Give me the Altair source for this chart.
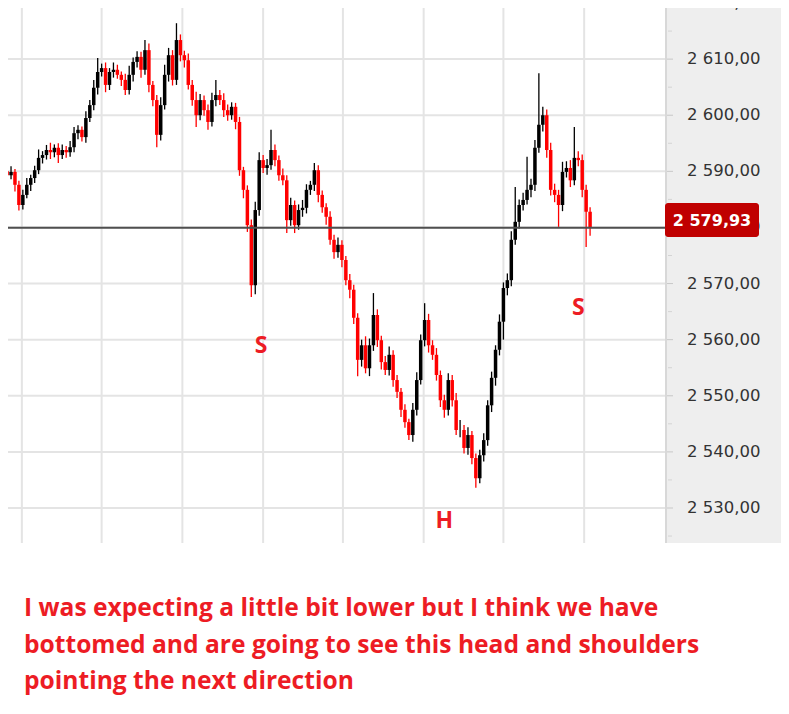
import altair as alt
import pandas as pd

# ---------------- data ----------------
first_open = 2590.0
close = [
    2589.3, 2589.9, 2587.6, 2584.0, 2585.8, 2587.6, 2588.8, 2590.2, 2592.4, 2592.9,
    2593.8, 2593.4, 2594.2, 2592.9, 2593.8, 2593.4, 2594.3, 2596.8, 2597.4, 2596.1,
    2599.5, 2601.8, 2604.9, 2607.7, 2608.4, 2605.4, 2607.7, 2608.1, 2607.2, 2606.3,
    2604.5, 2607.2, 2609.5, 2610.4, 2608.1, 2611.6, 2605.4, 2602.7, 2596.5, 2601.8,
    2607.2, 2610.7, 2606.3, 2613.4, 2610.7, 2609.8, 2605.4, 2602.7, 2600.0, 2602.7,
    2600.9, 2598.8, 2602.7, 2603.6, 2602.7, 2600.9, 2600.0, 2601.5, 2598.8, 2590.2,
    2586.7, 2580.4, 2569.7, 2583.1, 2592.0, 2590.6, 2591.1, 2593.8, 2592.0, 2589.3,
    2588.4, 2581.3, 2584.0, 2580.4, 2583.1, 2583.5, 2586.7, 2587.6, 2590.2, 2585.8,
    2583.6, 2581.9, 2577.8, 2575.6, 2576.9, 2574.2, 2570.6, 2568.9, 2563.9, 2556.4,
    2559.0, 2554.9, 2559.0, 2564.4, 2559.9, 2556.0, 2554.6, 2557.3, 2552.8, 2550.7,
    2547.5, 2545.3, 2543.0, 2547.5, 2552.8, 2559.9, 2563.5, 2559.0, 2557.3, 2553.7,
    2549.2, 2547.5, 2552.8, 2549.2, 2543.9, 2543.9, 2540.7, 2543.0, 2538.9, 2535.3,
    2539.4, 2542.1, 2548.3, 2553.2, 2558.2, 2563.2, 2569.2, 2570.6, 2577.8, 2581.0,
    2584.0, 2584.9, 2586.7, 2587.6, 2594.2, 2598.3, 2600.0, 2593.8, 2586.7, 2585.8,
    2584.0, 2589.9, 2590.6, 2588.4, 2592.4, 2592.0, 2586.7, 2582.8, 2579.93,
]
upper_wick = [
    0.8, 1.0, 0.5, 0.7, 0.9, 1.2, 0.6, 0.8, 1.5, 0.7,
    0.9, 1.3, 0.6, 0.8, 1.0, 0.7, 1.1, 1.1, 0.8, 0.6,
    1.2, 0.9, 1.4, 2.5, 0.8, 1.0, 0.7, 1.3, 0.9, 0.6,
    1.1, 1.6, 0.8, 1.0, 0.9, 1.8, 1.2, 0.7, 0.9, 1.4,
    1.8, 1.3, 0.9, 3.0, 1.0, 0.8, 1.2, 0.9, 1.5, 1.1,
    0.8, 1.0, 1.3, 2.7, 0.9, 1.2, 1.0, 0.8, 0.7, 0.9,
    0.6, 0.8, 1.0, 1.5, 1.4, 0.9, 1.1, 3.6, 1.0, 0.8,
    1.2, 0.9, 1.3, 0.8, 1.0, 1.4, 1.0, 0.7, 1.3, 0.9,
    0.8, 0.7, 1.0, 0.9, 1.3, 0.8, 0.7, 1.1, 0.9, 0.8,
    1.0, 1.6, 1.2, 3.9, 1.0, 0.8, 1.1, 1.5, 0.8, 0.9,
    0.7, 1.0, 0.6, 1.2, 1.4, 1.0, 3.0, 1.1, 0.9, 1.2,
    0.8, 1.0, 1.2, 0.9, 1.3, 1.8, 0.9, 1.4, 0.7, 0.8,
    1.0, 1.2, 0.9, 1.1, 0.8, 1.3, 1.0, 1.2, 1.5, 6.2,
    1.0, 1.3, 5.9, 1.1, 1.4, 9.2, 1.5, 1.0, 1.3, 1.1,
    0.9, 1.8, 1.2, 1.4, 5.5, 1.2, 1.0, 0.9, 0.8,
]
lower_wick = [
    0.9, 0.7, 1.2, 1.0, 0.8, 0.6, 1.1, 0.9, 0.7, 1.0,
    0.8, 1.2, 0.9, 1.4, 0.7, 1.0, 0.8, 0.9, 1.1, 0.8,
    1.0, 0.7, 0.9, 1.2, 0.8, 1.3, 0.9, 1.0, 0.7, 1.1,
    0.9, 0.8, 1.2, 1.0, 1.4, 0.9, 1.3, 1.1, 2.2, 1.0,
    0.8, 1.2, 1.0, 0.9, 1.1, 1.3, 0.8, 1.0, 2.1, 0.9,
    1.0, 1.4, 0.8, 1.1, 0.9, 1.2, 1.0, 0.8, 1.3, 1.0,
    1.5, 1.2, 2.1, 1.6, 1.0, 0.9, 1.2, 0.8, 1.1, 1.0,
    0.9, 2.3, 1.0, 1.4, 0.8, 1.2, 1.0, 0.9, 1.1, 1.3,
    1.0, 1.4, 0.9, 1.2, 1.0, 1.3, 0.9, 1.5, 1.1, 2.9,
    1.2, 0.9, 1.4, 1.0, 1.2, 1.3, 0.9, 1.0, 1.2, 1.1,
    1.3, 1.0, 0.9, 1.2, 1.0, 0.8, 1.1, 1.3, 0.9, 1.0,
    1.2, 1.4, 1.0, 1.1, 0.9, 1.3, 1.0, 1.2, 1.1, 1.7,
    0.9, 1.1, 1.0, 1.2, 1.4, 1.0, 3.2, 1.3, 1.1, 0.9,
    1.2, 1.0, 0.8, 1.3, 1.1, 0.9, 1.2, 1.4, 1.0, 1.3,
    3.9, 1.1, 1.0, 1.2, 0.9, 1.1, 1.3, 6.3, 1.4,
]
grid_prices = [2530, 2540, 2550, 2560, 2570, 2580, 2590, 2600, 2610, 2620]
minor_prices = [2525, 2535, 2545, 2555, 2565, 2575, 2585, 2595, 2605, 2615]
vgrid_idx = [3.75, 24, 44.5, 65, 85.25, 105.75, 126, 146.5]
last_price = 2579.93
ann_text = ["S", "H", "S"]
ann_idx = [64.5, 111, 145]
ann_price = [2558.9, 2527.7, 2565.6]
note_lines = [
    "I was expecting a little bit lower but I think we have",
    "bottomed and are going to see this head and shoulders",
    "pointing the next direction",
]

# ---------------- layout ----------------
W, H = 657, 535
PANEL = 116
RED = "#ed1c24"

opens = [first_open] + close[:-1]
df = pd.DataFrame({
    "idx": list(range(len(close))),
    "open": opens,
    "close": close,
})
df["high"] = [max(o, c) + u for o, c, u in zip(opens, close, upper_wick)]
df["low"] = [min(o, c) - l for o, c, l in zip(opens, close, lower_wick)]
df["dir"] = ["up" if c >= o else "down" for o, c in zip(opens, close)]

xs = alt.Scale(domain=[1.5, 165.75], nice=False, zero=False)
ys = alt.Scale(domain=[2523.76, 2619.11], nice=False, zero=False)
col = alt.Color("dir:N", scale=alt.Scale(domain=["up", "down"], range=["#000000", "#ff0000"]), legend=None)

hgrid = alt.Chart(pd.DataFrame({"p": grid_prices})).mark_rule(color="#e4e4e4", strokeWidth=2).encode(
    y=alt.Y("p:Q", scale=ys, axis=None), x=alt.value(0), x2=alt.value(W))
vgrid = alt.Chart(pd.DataFrame({"i": vgrid_idx})).mark_rule(color="#e4e4e4", strokeWidth=2).encode(
    x=alt.X("i:Q", scale=xs, axis=None), y=alt.value(0), y2=alt.value(H))

wick = alt.Chart(df).mark_rule(strokeWidth=1.3, clip=True).encode(
    x=alt.X("idx:Q", scale=xs, axis=None),
    y=alt.Y("low:Q", scale=ys, axis=None), y2="high:Q", color=col)
body = alt.Chart(df).mark_bar(width=3.5, clip=True).encode(
    x=alt.X("idx:Q", scale=xs, axis=None),
    y=alt.Y("open:Q", scale=ys, axis=None), y2="close:Q", color=col)

pline = alt.Chart(pd.DataFrame({"p": [last_price]})).mark_rule(color="#4f4f4f", strokeWidth=2).encode(
    y=alt.Y("p:Q", scale=ys, axis=None), x=alt.value(0), x2=alt.value(W))

one = pd.DataFrame({"a": [0]})
panel = alt.Chart(one).mark_rect(color="#eeeeee").encode(
    x=alt.value(W), x2=alt.value(W + PANEL), y=alt.value(0), y2=alt.value(H))
border = alt.Chart(one).mark_rule(color="#d8d8d8", strokeWidth=2).encode(
    x=alt.value(W + 1), y=alt.value(0), y2=alt.value(H))

major = alt.Chart(pd.DataFrame({"p": grid_prices})).mark_rule(color="#c8c8c8", strokeWidth=1).encode(
    y=alt.Y("p:Q", scale=ys, axis=None), x=alt.value(W + 2), x2=alt.value(W + 8))
minor = alt.Chart(pd.DataFrame({"p": minor_prices})).mark_rule(color="#d4d4d4", strokeWidth=1).encode(
    y=alt.Y("p:Q", scale=ys, axis=None), x=alt.value(W + 3), x2=alt.value(W + 7))

fmt = "replace(replace(format(datum.p, ',.2f'), ',', ' '), '.', ',')"
labels = alt.Chart(pd.DataFrame({"p": grid_prices})).transform_calculate(lab=fmt).mark_text(
    align="left", baseline="middle", font="DejaVu Sans", fontSize=16.5, color="#333333").encode(
    y=alt.Y("p:Q", scale=ys, axis=None), x=alt.value(W + 22), text="lab:N")

box = alt.Chart(one).mark_rect(color="#c00000", cornerRadius=3).encode(
    x=alt.value(W), x2=alt.value(W + 94), y=alt.value(195), y2=alt.value(229))
boxtext = alt.Chart(pd.DataFrame({"p": [last_price]})).transform_calculate(lab=fmt).mark_text(
    align="center", baseline="middle", font="DejaVu Sans", fontSize=16, fontWeight="bold", color="white").encode(
    x=alt.value(W + 47), y=alt.value(213), text="lab:N")

ann = alt.Chart(pd.DataFrame({"t": ann_text, "i": ann_idx, "p": ann_price})).mark_text(
    align="center", baseline="middle", font="Open Sans", fontSize=23, fontWeight="bold", color=RED).encode(
    x=alt.X("i:Q", scale=xs, axis=None), y=alt.Y("p:Q", scale=ys, axis=None), text="t:N")

notes = alt.Chart(pd.DataFrame({"t": note_lines, "k": [0, 1, 2]})).transform_calculate(
    yy="608 + datum.k * 36.5").mark_text(
    align="left", baseline="alphabetic", font="Open Sans", fontSize=24.6, fontWeight="bold", color=RED).encode(
    x=alt.value(16), y=alt.Y("yy:Q", scale=None, axis=None), text="t:N")

chart = alt.layer(
    hgrid, vgrid, wick, body, pline, panel, border, major, minor, labels, box, boxtext, ann, notes
).properties(
    width=W, height=H,
    padding={"left": 0, "top": 0, "right": PANEL, "bottom": 152},
    autosize=alt.AutoSizeParams(type="none"),
).configure_view(stroke=None)

chart.save("out.html", embed_options={"renderer": "svg", "actions": False})
